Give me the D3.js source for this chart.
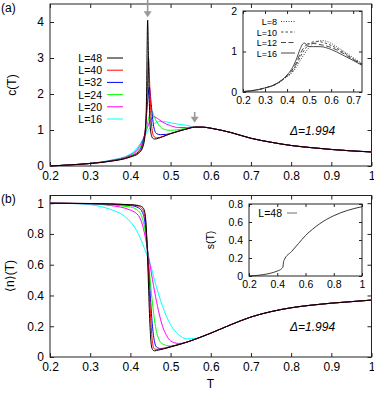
<!DOCTYPE html>
<html>
<head>
<meta charset="utf-8">
<script src="https://cdn.jsdelivr.net/npm/d3@7"></script>
<style>
  body { margin: 0; background: #fff; }
  svg text { font-family: "Liberation Sans", Arial, sans-serif; }
</style>
</head>
<body>
<div id="chart"></div>
<script>
// ---- data: [T, value] pairs ----
var sizes = ["L=48", "L=40", "L=32", "L=24", "L=20", "L=16"];
var colors = ["#000000", "#ff0000", "#0000ff", "#00ff00", "#ff00ff", "#00ffff"];

var tail_c = [[0.56,1.08],[0.58,1.08],[0.60,1.05],[0.65,0.93],[0.70,0.77],[0.75,0.66],[0.80,0.57],[0.85,0.51],[0.90,0.46],[0.95,0.42],[1.00,0.39]];
var c48 = [[0.2,0],[0.25,0.03],[0.3,0.07],[0.35,0.13],[0.4,0.25],[0.42,0.35],[0.43,0.5],[0.437,0.9],[0.44,1.8],[0.443,4.05],[0.446,2.3],[0.45,1.0],[0.455,0.78],[0.46,0.75],[0.48,0.81],[0.5,0.9],[0.52,0.97],[0.54,1.03]];
var c40 = [[0.2,0],[0.25,0.03],[0.3,0.07],[0.35,0.135],[0.4,0.26],[0.42,0.37],[0.43,0.55],[0.437,1.0],[0.442,2.0],[0.445,3.0],[0.449,2.0],[0.453,1.1],[0.458,0.83],[0.465,0.78],[0.48,0.82],[0.5,0.9],[0.52,0.97],[0.54,1.03]];
var c32 = [[0.2,0],[0.25,0.03],[0.3,0.07],[0.35,0.14],[0.4,0.27],[0.42,0.4],[0.43,0.62],[0.438,1.1],[0.443,1.8],[0.447,2.2],[0.452,1.7],[0.458,1.1],[0.465,0.9],[0.475,0.87],[0.49,0.88],[0.51,0.93],[0.53,1.0],[0.545,1.04]];
var c24 = [[0.2,0],[0.25,0.03],[0.3,0.07],[0.35,0.145],[0.4,0.29],[0.42,0.45],[0.43,0.65],[0.44,1.05],[0.447,1.4],[0.453,1.53],[0.46,1.35],[0.47,1.15],[0.48,1.04],[0.49,1.0],[0.5,0.99],[0.52,1.01],[0.54,1.05]];
var c20 = [[0.2,0],[0.25,0.03],[0.3,0.075],[0.35,0.15],[0.4,0.31],[0.42,0.5],[0.43,0.7],[0.44,1.0],[0.45,1.27],[0.458,1.37],[0.47,1.3],[0.48,1.22],[0.5,1.12],[0.52,1.07],[0.54,1.07]];
var c16 = [[0.2,0],[0.25,0.03],[0.3,0.075],[0.35,0.16],[0.4,0.33],[0.42,0.55],[0.43,0.72],[0.44,0.92],[0.45,1.08],[0.46,1.18],[0.47,1.23],[0.48,1.24],[0.5,1.2],[0.52,1.16],[0.54,1.13]];

var tail_n = [[0.55,0.105],[0.6,0.155],[0.65,0.21],[0.7,0.26],[0.75,0.295],[0.8,0.32],[0.85,0.337],[0.9,0.35],[0.95,0.36],[1.0,0.37]];
var n48 = [[0.2,1.0],[0.3,0.998],[0.4,0.99],[0.42,0.985],[0.43,0.975],[0.436,0.94],[0.44,0.82],[0.444,0.55],[0.448,0.25],[0.452,0.08],[0.456,0.045],[0.46,0.04],[0.47,0.045],[0.5,0.065]];
var n40 = [[0.2,1.0],[0.3,0.998],[0.4,0.99],[0.42,0.98],[0.43,0.96],[0.437,0.9],[0.442,0.72],[0.446,0.5],[0.45,0.28],[0.454,0.12],[0.458,0.06],[0.462,0.05],[0.47,0.05],[0.5,0.066]];
var n32 = [[0.2,1.0],[0.3,0.997],[0.4,0.985],[0.42,0.97],[0.43,0.94],[0.436,0.88],[0.44,0.78],[0.445,0.6],[0.45,0.38],[0.455,0.2],[0.46,0.1],[0.465,0.065],[0.475,0.055],[0.5,0.068]];
var n24 = [[0.2,1.0],[0.3,0.996],[0.4,0.975],[0.42,0.95],[0.43,0.9],[0.44,0.76],[0.445,0.63],[0.45,0.48],[0.455,0.35],[0.46,0.24],[0.47,0.12],[0.48,0.085],[0.5,0.072],[0.52,0.08]];
var n20 = [[0.2,1.0],[0.3,0.995],[0.35,0.985],[0.4,0.955],[0.42,0.92],[0.43,0.86],[0.44,0.74],[0.45,0.58],[0.46,0.43],[0.47,0.3],[0.48,0.2],[0.49,0.14],[0.5,0.105],[0.52,0.088],[0.54,0.095]];
var n16 = [[0.2,1.0],[0.25,0.998],[0.3,0.99],[0.35,0.96],[0.38,0.925],[0.4,0.88],[0.42,0.8],[0.44,0.67],[0.45,0.6],[0.46,0.5],[0.47,0.41],[0.48,0.33],[0.5,0.21],[0.52,0.145],[0.54,0.118],[0.56,0.12],[0.58,0.135],[0.6,0.155]];

// inset (a): small sizes
var insetSizes = ["L=8", "L=10", "L=12", "L=16"];
var ci8  = [[0.2,0.01],[0.25,0.04],[0.3,0.1],[0.35,0.19],[0.4,0.38],[0.42,0.46],[0.44,0.6],[0.46,0.78],[0.48,0.95],[0.5,1.1],[0.52,1.2],[0.54,1.25],[0.56,1.27],[0.58,1.25],[0.6,1.2],[0.65,1.03],[0.7,0.85],[0.74,0.7]];
var ci10 = [[0.2,0.01],[0.25,0.04],[0.3,0.1],[0.35,0.19],[0.4,0.39],[0.42,0.48],[0.44,0.65],[0.46,0.87],[0.48,1.05],[0.5,1.18],[0.52,1.24],[0.54,1.25],[0.56,1.23],[0.6,1.15],[0.65,1.0],[0.7,0.82],[0.74,0.69]];
var ci12 = [[0.2,0.01],[0.25,0.04],[0.3,0.1],[0.35,0.2],[0.4,0.4],[0.42,0.52],[0.44,0.7],[0.46,0.95],[0.48,1.12],[0.5,1.2],[0.52,1.2],[0.54,1.18],[0.56,1.16],[0.6,1.1],[0.65,0.97],[0.7,0.8],[0.74,0.68]];
var ci16 = [[0.2,0.01],[0.25,0.04],[0.3,0.1],[0.35,0.2],[0.4,0.42],[0.42,0.56],[0.44,0.78],[0.46,1.07],[0.47,1.18],[0.48,1.21],[0.49,1.15],[0.5,1.12],[0.52,1.12],[0.55,1.12],[0.6,1.05],[0.65,0.92],[0.7,0.78],[0.74,0.66]];

// inset (b): s(T)
var s48 = [[0.2,0],[0.25,0.005],[0.3,0.015],[0.35,0.03],[0.4,0.055],[0.43,0.08],[0.44,0.1],[0.445,0.16],[0.45,0.18],[0.5,0.27],[0.55,0.36],[0.6,0.45],[0.65,0.52],[0.7,0.58],[0.8,0.67],[0.9,0.73],[1.0,0.77]];

// arrows marking peaks: [T, from, to]
var arrows = [[0.443, 4.62, 4.13], [0.56, 1.5, 1.2]];

var W = 374, H = 394;
var svg = d3.select("#chart").append("svg").attr("width", W).attr("height", H);

var x = d3.scaleLinear().domain([0.2, 1]).range([50, 371.5]);
var yc = d3.scaleLinear().domain([0, 4.5]).range([166, 4]);
var yn = d3.scaleLinear().domain([0, 1.05]).range([357, 195.5]);

var xi = d3.scaleLinear().domain([0.2, 0.74]).range([243, 362]);
var yi = d3.scaleLinear().domain([0, 2]).range([92, 11]);
var xs = d3.scaleLinear().domain([0.2, 1]).range([249, 362]);
var ys = d3.scaleLinear().domain([0, 0.8]).range([276, 204]);

function frame(g, sx, sy, xt, yt, xfmt, yfmt, fs, tk) {
  var x0 = sx.range()[0], x1 = sx.range()[1], y0 = sy.range()[0], y1 = sy.range()[1];
  g.append("rect").attr("x", x0).attr("y", y1).attr("width", x1 - x0).attr("height", y0 - y1)
    .attr("fill", "#fff").attr("stroke", "none");
  g.append("g").attr("transform", "translate(0," + y0 + ")")
    .call(d3.axisBottom(sx).tickValues(xt).tickFormat(xfmt).tickSize(-tk).tickPadding(5));
  g.append("g").attr("transform", "translate(0," + y1 + ")")
    .call(d3.axisTop(sx).tickValues(xt).tickFormat("").tickSize(-tk));
  g.append("g").attr("transform", "translate(" + x0 + ",0)")
    .call(d3.axisLeft(sy).tickValues(yt).tickFormat(yfmt).tickSize(-tk).tickPadding(6));
  g.append("g").attr("transform", "translate(" + x1 + ",0)")
    .call(d3.axisRight(sy).tickValues(yt).tickFormat("").tickSize(-tk));
  g.selectAll(".domain").remove();
  g.selectAll(".tick line").attr("stroke", "#222");
  g.selectAll(".tick text").attr("font-size", fs).attr("fill", "#000")
    .attr("font-family", "Liberation Sans, Arial, sans-serif");
  g.append("rect").attr("x", x0).attr("y", y1).attr("width", x1 - x0).attr("height", y0 - y1)
    .attr("fill", "none").attr("stroke", "#222").attr("stroke-width", 1);
}

function fmt(d) { return d === 0 || d === 1 ? String(d) : d3.format(".1f")(d); }
var xticks = d3.range(0.2, 1.001, 0.1).map(function(d) { return +d.toFixed(1); });

// ---- panel (a) ----
var ga = svg.append("g");
frame(ga, x, yc, xticks, [0, 1, 2, 3, 4], fmt, d3.format("d"), 12, 4);

var lineC = d3.line().x(function(d) { return x(d[0]); }).y(function(d) { return yc(d[1]); }).curve(d3.curveMonotoneX);
var cSeries = [c48, c40, c32, c24, c20, c16];
for (var i = cSeries.length - 1; i >= 0; i--) {
  var pts = cSeries[i].concat(tail_c.filter(function(p) { return p[0] > cSeries[i][cSeries[i].length - 1][0]; }));
  ga.append("path").datum(pts).attr("d", lineC)
    .attr("fill", "none").attr("stroke", colors[i]).attr("stroke-width", 1);
}

// arrows
arrows.forEach(function(a) {
  var ax = x(a[0]), y0 = yc(a[1]), y1 = yc(a[2]);
  ga.append("line").attr("x1", ax).attr("x2", ax).attr("y1", y0).attr("y2", y1 - 5)
    .attr("stroke", "#999").attr("stroke-width", 1.6);
  ga.append("path").attr("d", "M" + (ax - 4) + "," + (y1 - 6) + "L" + (ax + 4) + "," + (y1 - 6) + "L" + ax + "," + y1 + "Z")
    .attr("fill", "#999");
});

// legend
var leg = ga.append("g");
sizes.forEach(function(s, i) {
  var yy = 58 + i * 12.2;
  leg.append("text").attr("x", 102).attr("y", yy + 4).attr("text-anchor", "end")
    .attr("font-size", 10.5).text(s);
  leg.append("line").attr("x1", 107).attr("x2", 123).attr("y1", yy).attr("y2", yy)
    .attr("stroke", colors[i]).attr("stroke-width", 1);
});

ga.append("text").attr("x", 290).attr("y", 135).attr("font-size", 12)
  .attr("font-family", "Liberation Serif, Times New Roman, serif").attr("font-style", "italic")
  .text("\u0394=1.994");

ga.append("text").attr("transform", "translate(16,85) rotate(-90)").attr("text-anchor", "middle")
  .attr("font-size", 12).text("c(T)");
ga.append("text").attr("x", 1).attr("y", 12).attr("font-size", 12)
  .attr("font-family", "Liberation Serif, Times New Roman, serif").text("(a)");

// inset (a)
var gi = svg.append("g");
frame(gi, xi, yi, [0.2, 0.3, 0.4, 0.5, 0.6, 0.7], [0, 1, 2], d3.format(".1f"), d3.format("d"), 10.5, 3);
var lineI = d3.line().x(function(d) { return xi(d[0]); }).y(function(d) { return yi(d[1]); }).curve(d3.curveMonotoneX);
var iSeries = [ci8, ci10, ci12, ci16];
var dashes = ["1,1.5", "2.5,2", "5,2.5", null];
iSeries.forEach(function(s, i) {
  gi.append("path").datum(s).attr("d", lineI).attr("fill", "none")
    .attr("stroke", "#333").attr("stroke-width", 0.9).attr("stroke-dasharray", dashes[i]);
  var yy = 21.5 + i * 10.5;
  gi.append("text").attr("x", 277).attr("y", yy + 3.5).attr("text-anchor", "end")
    .attr("font-size", 9).text(insetSizes[i]);
  gi.append("line").attr("x1", 281).attr("x2", 295).attr("y1", yy).attr("y2", yy)
    .attr("stroke", "#333").attr("stroke-width", 0.9).attr("stroke-dasharray", dashes[i]);
});

// ---- panel (b) ----
var gb = svg.append("g");
frame(gb, x, yn, xticks, [0, 0.2, 0.4, 0.6, 0.8, 1], fmt, fmt, 12, 4);

var lineN = d3.line().x(function(d) { return x(d[0]); }).y(function(d) { return yn(d[1]); }).curve(d3.curveMonotoneX);
var nSeries = [n48, n40, n32, n24, n20, n16];
for (var j = nSeries.length - 1; j >= 0; j--) {
  var last = nSeries[j][nSeries[j].length - 1][0];
  var pn = nSeries[j].concat(tail_n.filter(function(p) { return p[0] > last; }));
  gb.append("path").datum(pn).attr("d", lineN)
    .attr("fill", "none").attr("stroke", colors[j]).attr("stroke-width", 1);
}

gb.append("text").attr("x", 290).attr("y", 331).attr("font-size", 12)
  .attr("font-family", "Liberation Serif, Times New Roman, serif").attr("font-style", "italic")
  .text("\u0394=1.994");
gb.append("text").attr("transform", "translate(14,276) rotate(-90)").attr("text-anchor", "middle")
  .attr("font-size", 12).text("\u27e8n\u27e9(T)");
gb.append("text").attr("x", 1).attr("y", 203).attr("font-size", 12)
  .attr("font-family", "Liberation Serif, Times New Roman, serif").text("(b)");
gb.append("text").attr("x", 210.5).attr("y", 388).attr("text-anchor", "middle")
  .attr("font-size", 12).text("T");

// inset (b)
var gs = svg.append("g");
frame(gs, xs, ys, [0.2, 0.4, 0.6, 0.8, 1], [0, 0.2, 0.4, 0.6, 0.8], fmt, fmt, 10.5, 3);
var lineS = d3.line().x(function(d) { return xs(d[0]); }).y(function(d) { return ys(d[1]); }).curve(d3.curveMonotoneX);
gs.append("path").datum(s48).attr("d", lineS).attr("fill", "none")
  .attr("stroke", "#222").attr("stroke-width", 0.9);
gs.append("text").attr("x", 282).attr("y", 217).attr("text-anchor", "end")
  .attr("font-size", 10.5).text("L=48");
gs.append("line").attr("x1", 287).attr("x2", 297).attr("y1", 213).attr("y2", 213)
  .attr("stroke", "#888").attr("stroke-width", 1.2);
gs.append("text").attr("transform", "translate(214,240) rotate(-90)").attr("text-anchor", "middle")
  .attr("font-size", 10.5).text("s(T)");
</script>
</body>
</html>
